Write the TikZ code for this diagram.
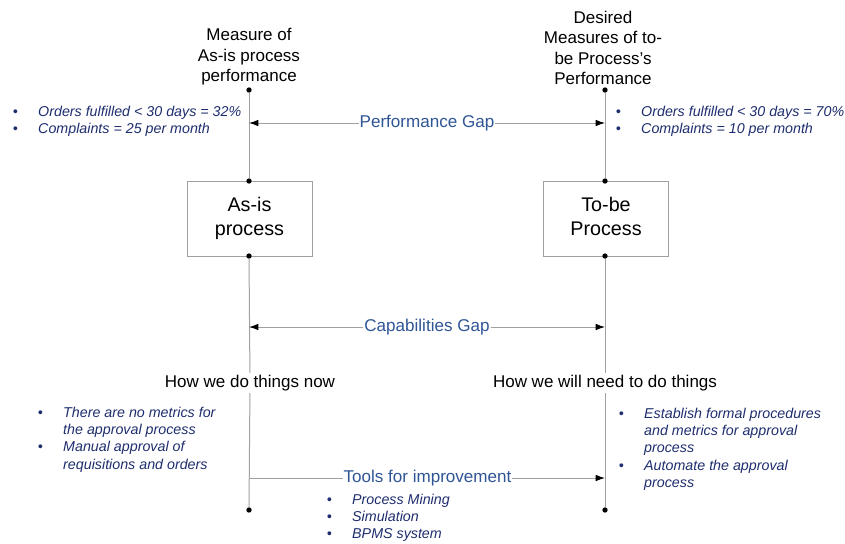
\documentclass[tikz,border=0pt]{standalone}
\usepackage{fontspec}
\setmainfont{Liberation Sans}
\usetikzlibrary{arrows.meta}
\definecolor{gapblue}{RGB}{47,85,151}
\definecolor{navy}{RGB}{30,45,110}
\definecolor{linegray}{RGB}{160,160,160}
\newcommand{\bl}{\makebox[19.1pt][l]{\textbullet}}
\newcommand{\ind}{\hspace*{19.1pt}}
\newcommand{\blst}[1]{\begin{tabular}[t]{@{}l@{}}#1\end{tabular}}
\newcommand{\boxtxt}[1]{\raisebox{-1.5pt}{\begin{tabular}{@{}c@{}}#1\end{tabular}}}
\tikzset{
  dot/.style={circle,fill=black,inner sep=0pt,minimum size=4pt},
  procbox/.style={draw=linegray,line width=0.75pt,minimum width=93.75pt,minimum height=56.25pt,font=\fontsize{14.8}{18}\selectfont,inner sep=0pt},
  title/.style={align=center,font=\fontsize{12.75}{15.4}\selectfont,inner sep=0pt},
  howlbl/.style={font=\fontsize{12.75}{15.4}\selectfont,inner sep=1.5pt},
  gaplbl/.style={font=\fontsize{12.8}{15.4}\selectfont,text=gapblue,inner sep=0.5pt},
  blist/.style={anchor=base west,inner sep=0pt,text=navy,font=\fontsize{10.7}{13.1}\selectfont\itshape},
  gline/.style={draw=linegray,line width=0.75pt},
  garrow/.style={gline,-{Latex[color=black,length=7pt,width=5pt]}},
}
\begin{document}
\begin{tikzpicture}[x=0.75pt,y=-0.75pt]
\useasboundingbox (0,0) rectangle (845,543);
% titles
\node[title] (tl) at (249,57) {Measure of\\As-is process\\performance};
\node[title] (tr) at (603,48) {Desired\\Measures of to-\\be Process’s\\Performance};
% dots top
\node[dot] (lt) at (249,90) {};
\node[dot] (rt) at (605,90) {};
% boxes
\node[procbox] (asis) at (249.5,218.5) {\boxtxt{As-is\\process}};
\node[procbox] (tobe) at (606,218.5) {\boxtxt{To-be\\Process}};
\node[dot] (asisN) at (249,181) {};
\node[dot] (asisS) at (249,256) {};
\node[dot] (tobeN) at (605,181) {};
\node[dot] (tobeS) at (605,256) {};
% how labels
\node[howlbl] (hnow) at (250,383) {How we do things now};
\node[howlbl] (hwill) at (605,383) {How we will need to do things};
% bottom dots
\node[dot] (lb) at (249,510) {};
\node[dot] (rb) at (605,510) {};
% vertical lines
\draw[gline] (lt) -- (asisN);
\draw[gline] (rt) -- (tobeN);
\draw[gline] (asisS) -- (hnow);
\draw[gline] (hnow) -- (lb);
\draw[gline] (tobeS) -- (hwill);
\draw[gline] (hwill) -- (rb);
% gaps
\coordinate (pgl) at (249,123);
\coordinate (pgr) at (605,123);
\node[gaplbl] (pg) at (427,123) {Performance Gap};
\draw[garrow] (pg) -- (pgl);
\draw[garrow] (pg) -- (pgr);
\coordinate (cgl) at (249,327);
\coordinate (cgr) at (605,327);
\node[gaplbl] (cg) at (427,327) {Capabilities Gap};
\draw[garrow] (cg) -- (cgl);
\draw[garrow] (cg) -- (cgr);
\coordinate (tgl) at (249,478);
\coordinate (tgr) at (605,478);
\node[gaplbl] (tg) at (427.5,478) {Tools for improvement};
\draw[gline] (tgl) -- (tg);
\draw[garrow] (tg) -- (tgr);
% bullet lists
\node[blist] (bl1) at (12.5,116) {\blst{\bl Orders fulfilled < 30 days = 32\%\\\bl Complaints = 25 per month}};
\node[blist] (bl2) at (615.5,116) {\blst{\bl Orders fulfilled < 30 days = 70\%\\\bl Complaints = 10 per month}};
\node[blist] (bl3) at (37.5,417) {\blst{\bl There are no metrics for\\\ind the approval process\\\bl Manual approval of\\\ind requisitions and orders}};
\node[blist] (bl4) at (618.5,418) {\blst{\bl Establish formal procedures\\\ind and metrics for approval\\\ind process\\\bl Automate the approval\\\ind process}};
\node[blist] (bl5) at (326.5,504) {\blst{\bl Process Mining\\\bl Simulation\\\bl BPMS system}};
\end{tikzpicture}
\end{document}
